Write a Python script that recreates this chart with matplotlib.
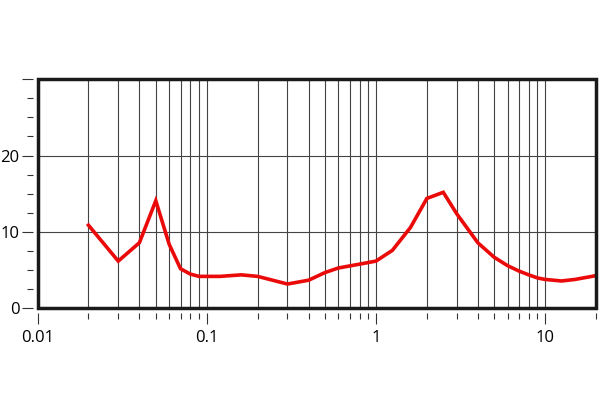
import numpy as np
import matplotlib
matplotlib.use('Agg')
import matplotlib.pyplot as plt
from matplotlib.patches import Rectangle
from matplotlib.ticker import FixedLocator, FixedFormatter, LogLocator, NullFormatter

# DATA
freq = [0.02, 0.03, 0.04, 0.05, 0.06, 0.07, 0.08, 0.09, 0.1, 0.12, 0.16, 0.2,
        0.3, 0.4, 0.5, 0.6, 0.8, 1.0, 1.25, 1.6, 2.0, 2.5, 3.0, 4.0, 5.0,
        6.0, 7.0, 8.0, 9.0, 10.0, 12.5, 15.0, 20.0]
level = [10.9, 6.2, 8.6, 14.1, 8.4, 5.2, 4.5, 4.2, 4.2, 4.2, 4.4, 4.2,
         3.2, 3.7, 4.7, 5.3, 5.8, 6.2, 7.6, 10.6, 14.4, 15.2, 12.4, 8.6, 6.7,
         5.6, 4.9, 4.4, 4.0, 3.8, 3.6, 3.8, 4.3]

x_ticks = [0.01, 0.1, 1, 10]
x_labels = ['0.01', '0.1', '1', '10']
y_ticks = [0, 10, 20, 30]
y_labels = ['0', '10', '20', '']

plt.rcParams['font.family'] = ['Open Sans', 'DejaVu Sans']

fig = plt.figure(figsize=(6, 4.2), dpi=100)
ax = fig.add_axes([0.0625, 0.2655, 0.931, 0.546])

ax.plot(freq, level, color='#ea0a0a', lw=2.6, zorder=3, solid_joinstyle='miter')

ax.set_xscale('log')
ax.set_xlim(0.01, 20)
ax.set_ylim(0, 30)

# TICKS
ax.xaxis.set_major_locator(FixedLocator(x_ticks))
ax.xaxis.set_major_formatter(FixedFormatter(x_labels))
ax.xaxis.set_minor_locator(LogLocator(base=10, subs=np.arange(2, 10), numticks=20))
ax.xaxis.set_minor_formatter(NullFormatter())
ax.yaxis.set_major_locator(FixedLocator(y_ticks))
ax.yaxis.set_major_formatter(FixedFormatter(y_labels))
ax.yaxis.set_minor_locator(FixedLocator(np.arange(0, 30.1, 2.5)))

ax.tick_params(which='major', length=8, width=0.8, color='#333333', labelsize=12)
ax.tick_params(which='minor', length=4.5, width=0.8, color='#333333')
ax.tick_params(axis='x', which='major', pad=4)
ax.tick_params(axis='y', which='major', pad=1.5)

# SPINES OFFSET SO TICKS SIT AWAY FROM THE FRAME
for side in ['left', 'bottom']:
    ax.spines[side].set_position(('outward', 3.5))
for side in ax.spines:
    ax.spines[side].set_visible(False)

# GRID: ALL X TICKS, ONLY 10 AND 20 ON Y
for xv in ax.xaxis.get_minorticklocs():
    if 0.01 < xv < 20:
        ax.axvline(xv, color='#444444', lw=0.8, zorder=1)
for xv in x_ticks[1:]:
    ax.axvline(xv, color='#444444', lw=0.8, zorder=1)
for yv in [10, 20]:
    ax.axhline(yv, color='#444444', lw=0.8, zorder=1)

# THICK FRAME
ax.add_patch(Rectangle((0, 0), 1, 1, transform=ax.transAxes, fill=False,
                       lw=2.5, edgecolor='#1a1a1a', clip_on=False, zorder=4))

fig.savefig('out.png', dpi=100)
